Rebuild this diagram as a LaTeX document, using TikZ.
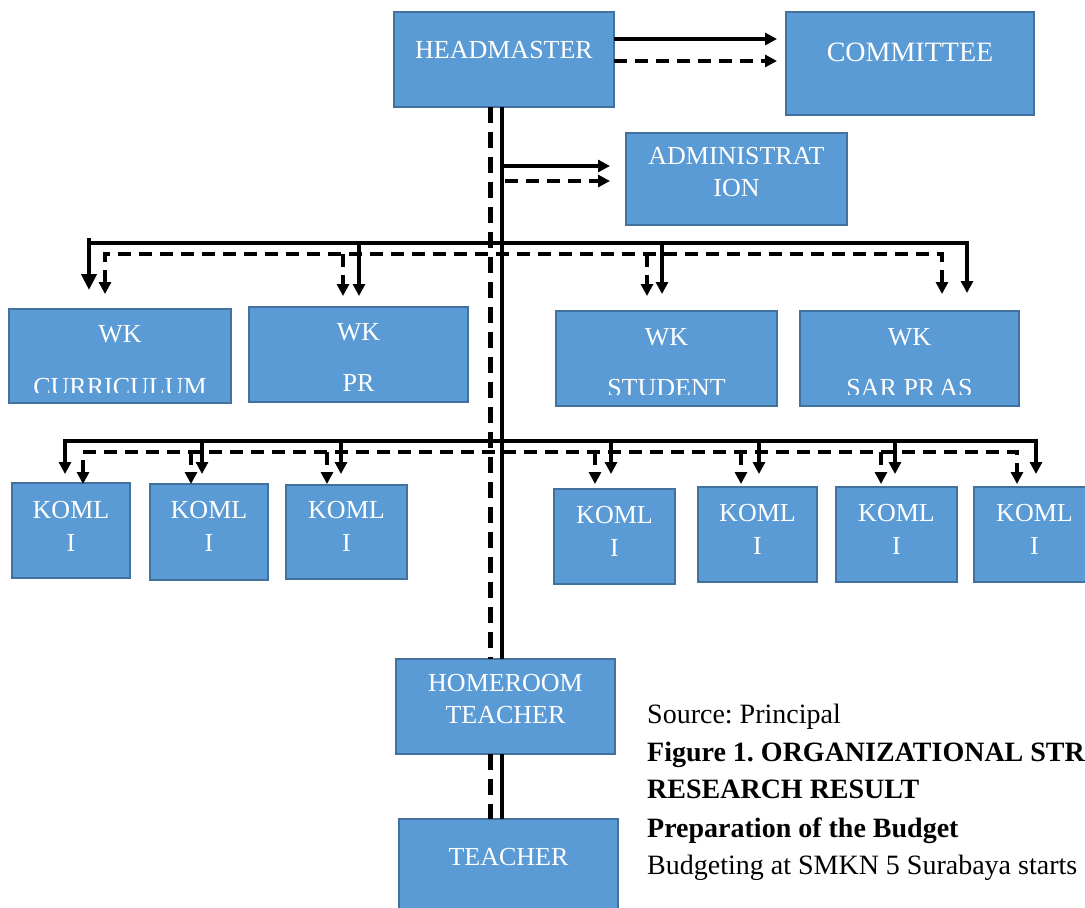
\documentclass[tikz,border=0pt]{standalone}
\usepackage{fontspec}
\setmainfont{Liberation Serif}
\usetikzlibrary{arrows.meta}
\definecolor{boxblue}{HTML}{5B9BD5}
\definecolor{boxedge}{HTML}{41719C}
\frenchspacing
\begin{document}
\begin{tikzpicture}[x=1pt,y=-1pt,
  bluebox/.style={draw=boxedge, fill=boxblue, line width=1.2pt, inner sep=0pt, outer sep=0pt},
  lbl/.style={text=white, font=\fontsize{26}{30}\selectfont, anchor=base, inner sep=0pt},
  captext/.style={text=black, font=\fontsize{28}{34}\selectfont, anchor=base west, inner sep=0pt},
  sline/.style={line width=3.1pt, draw=black},
  dline/.style={line width=3.4pt, draw=black, dash pattern=on 13pt off 8pt},
  trunkS/.style={line width=4.8pt, draw=black},
  trunkD/.style={line width=5pt, draw=black, dash pattern=on 16pt off 9pt},
  arrowtip/.style={-{Triangle[length=12pt,width=12pt]}},
  bothtips/.style={{Triangle[length=12pt,width=12pt]}-{Triangle[length=12pt,width=12pt]}},
  bigtip/.style={-{Triangle[length=16pt,width=15pt]}},
]
\fill[white] (0,0) rectangle (1085,908);
\useasboundingbox (0,0) rectangle (1085,908);

% ---------- boxes ----------
\node[bluebox, minimum width=220pt, minimum height=95pt] (hm) at (504,59.5) {};
\node[lbl] (hmT) at (504,58.5) {HEADMASTER};
\node[bluebox, minimum width=248pt, minimum height=103pt] (cm) at (910,63.5) {};
\node[lbl, font=\fontsize{28}{32}\selectfont] (cmT) at (910,61.5) {COMMITTEE};
\node[bluebox, minimum width=221pt, minimum height=92pt] (ad) at (736.5,179) {};
\node[lbl] (adT1) at (736.5,164.6) {ADMINISTRAT};
\node[lbl] (adT2) at (736.5,196.6) {ION};

\node[bluebox, minimum width=222pt, minimum height=94pt] (wc) at (120,356) {};
\node[lbl] (wcT1) at (120,342.6) {WK};
\node[bluebox, minimum width=219pt, minimum height=95pt] (wp) at (358.5,354.5) {};
\node[lbl] (wpT1) at (358.5,340.6) {WK};
\node[lbl] (wpT2) at (358.5,391.6) {PR};
\node[bluebox, minimum width=221pt, minimum height=95pt] (ws) at (666.5,358.5) {};
\node[lbl] (wsT1) at (666.5,345.6) {WK};
\node[bluebox, minimum width=219pt, minimum height=95pt] (wsp) at (909.5,358.5) {};
\node[lbl] (wspT1) at (909.5,345.6) {WK};
\begin{scope}
  \clip (0,0) rectangle (1085,392);
  \node[lbl] (wcT2) at (120,395) {CURRICULUM};
\end{scope}
\begin{scope}
  \clip (0,0) rectangle (1085,394.5);
  \node[lbl] (wsT2) at (666.5,396.5) {STUDENT};
  \node[lbl] (wspT2) at (909.5,396.5) {SAR PR\kern4pt AS};
\end{scope}

\foreach \n/\cx/\cy/\w/\h/\ty in {k1/71/530.5/118/95/518.6, k2/209/532/118/96/518.6, k3/346.5/532/121/94/518.6,
  k4/614.5/536.5/121/95/523.6, k5/757.5/534.5/119/95/521.6, k6/896.5/534.5/121/95/521.6, k7/1034.5/534.5/121/95/521.6}{
  \node[bluebox, minimum width=\w pt, minimum height=\h pt] (\n) at (\cx,\cy) {};
  \node[lbl] (\n T1) at (\cx,\ty) {KOML};
  \node[lbl] (\n T2) at (\cx,\ty+32.5) {I};
}

\node[bluebox, minimum width=219pt, minimum height=95pt] (hr) at (505.5,706.5) {};
\node[lbl] (hrT1) at (505.5,691.6) {HOMEROOM};
\node[lbl] (hrT2) at (505.5,723.6) {TEACHER};
\node[bluebox, minimum width=219pt, minimum height=95pt] (tc) at (508.5,866.5) {};
\node[lbl] (tcT) at (508.5,865.6) {TEACHER};

% ---------- caption ----------
\node[captext] (src) at (647,723) {Source: Principal};
\node[captext, font=\fontsize{28}{34}\selectfont\bfseries] (fig) at (647,761) {Figure 1. ORGANIZATIONAL STR};
\node[captext, font=\fontsize{28}{34}\selectfont\bfseries] (res) at (647,798) {RESEARCH RESULT};
\node[captext, font=\fontsize{28}{34}\selectfont\bfseries] (prep) at (647,837) {Preparation of the Budget};
\node[captext] (budg) at (647,874) {Budgeting at SMKN 5 Surabaya starts};

% ---------- helper coordinates ----------
\coordinate (sx) at (502,0);
\coordinate (dx) at (490,0);
\coordinate (cmS) at (777,39);
\coordinate (cmD) at (777,61);
\coordinate (adS) at (610,166);
\coordinate (adD) at (610,181);
\coordinate (wbarS) at (0,243);
\coordinate (wbarD) at (0,254);
\coordinate (wcs) at (89,290);   \coordinate (wcd) at (105,294);
\coordinate (wps) at (359,296);  \coordinate (wpd) at (343,296);
\coordinate (wss) at (662,294);  \coordinate (wsd) at (647,296);
\coordinate (wsps) at (967,293); \coordinate (wspd) at (942,294);
\coordinate (kbarS) at (0,441);
\coordinate (kbarD) at (0,452);
\foreach \n/\xs/\xd in {k1/65/83, k2/202/191, k3/341/327, k4/611/595, k5/759/741, k6/895/881, k7/1036/1017}{
  \coordinate (\n s) at (\xs,474);
  \coordinate (\n d) at (\xd,484);
}

% ---------- connectors ----------
% headmaster -> committee
\draw[sline, arrowtip] (hm.east |- cmS) -- (cmS);
\draw[dline, arrowtip] (hm.east |- cmD) -- (cmD);
% trunk -> administration
\draw[sline, arrowtip] (sx |- adS) -- (adS);
\draw[dline, arrowtip] ([xshift=3pt]sx |- adD) -- (adD);

% WK level
\draw[sline, arrowtip] (wcs |- wbarS) -- (wsps |- wbarS) -- (wsps);
\draw[line width=4.2pt, bigtip] ([yshift=5pt]wcs |- wbarS) -- (wcs);
\draw[sline, arrowtip] (wps |- wbarS) -- (wps);
\draw[sline, arrowtip] (wss |- wbarS) -- (wss);
\draw[dline, bothtips] (wcd) -- (wcd |- wbarD) -- (wspd |- wbarD) -- (wspd);
\draw[dline, arrowtip] (wpd |- wbarD) -- (wpd);
\draw[dline, arrowtip] (wsd |- wbarD) -- (wsd);

% KOML level
\draw[sline, bothtips] (k1s) -- (k1s |- kbarS) -- (k7s |- kbarS) -- (k7s);
\draw[dline, bothtips] (k1d) -- (k1d |- kbarD) -- (k7d |- kbarD) -- (k7d);
\foreach \n in {k2,k3,k4,k5,k6}{
  \draw[sline, arrowtip] (\n s |- kbarS) -- (\n s);
  \draw[dline, arrowtip] (\n d |- kbarD) -- (\n d);
}

% main trunk
\draw[trunkS] (hm.south -| sx) -- (hr.north -| sx);
\draw[trunkD] (hm.south -| dx) -- (hr.north -| dx);
\draw[trunkS] (hr.south -| sx) -- (tc.north -| sx);
\draw[trunkD] (hr.south -| dx) -- (tc.north -| dx);
\end{tikzpicture}
\end{document}
